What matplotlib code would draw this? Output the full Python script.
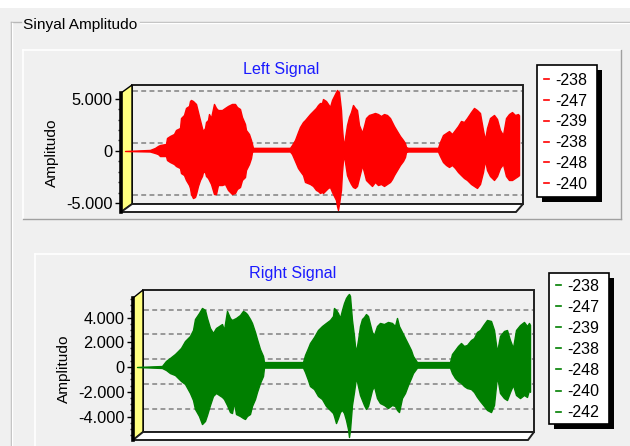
import matplotlib
matplotlib.use('Agg')
import matplotlib.pyplot as plt
from matplotlib.patches import Polygon, Rectangle
from matplotlib.ticker import FuncFormatter, MultipleLocator
import matplotlib.transforms as mtransforms
import numpy as np

plt.rcParams['font.family'] = ['Liberation Sans', 'DejaVu Sans']

W, H = 630, 446

group_title = 'Sinyal Amplitudo'
y_label = 'Amplitudo'
left_title = 'Left Signal'
right_title = 'Right Signal'
left_legend = ['-238', '-247', '-239', '-238', '-248', '-240']
right_legend = ['-238', '-247', '-239', '-238', '-248', '-240', '-242']

# ---- Left channel envelope (sample index, max, min) ----
left_t = [0, 2500, 3000, 3300, 3500, 4100, 4200, 4500, 4900, 5100,
          5500, 5600, 5900, 6100, 6400, 6500, 6600, 6800, 7000, 7100,
          7300, 7500, 7700, 7800, 8000, 8100, 8300, 8400, 8600, 8900,
          9100, 9300, 9700, 10000, 10300, 10700, 11000, 11200, 11500, 11700,
          12000, 12100, 12400, 12600, 12700, 12800, 16500, 16700, 17000, 17300,
          17500, 17800, 18000, 18500, 18800, 19100, 19300, 19500, 19700, 19800,
          20100, 20300, 20500, 20700, 20900, 21100, 21200, 21300, 21400, 21600,
          21700, 21800, 21900, 22000, 22200, 22400, 22600, 22800, 23000, 23200,
          23400, 23600, 23700, 23900, 24100, 24400, 24700, 25000, 25300, 25600,
          25900, 26200, 26500, 26700, 26900, 27200, 27500, 27800, 28000, 28100,
          28300, 31300, 31500, 31800, 32100, 32400, 32700, 33000, 33300, 33600,
          33900, 34200, 34600, 34900, 35200, 35500, 35800, 36000, 36200, 36500,
          36900, 37200, 37500, 37800, 38100, 38400, 38700, 39000, 39300, 39400]
left_max = [0, 100, 290, 480, 570, 670, 1240, 1430, 1620, 2000,
            2190, 3140, 3430, 4100, 4290, 4760, 4860, 4760, 4570, 4480,
            3710, 2950, 2190, 1900, 2190, 2760, 2950, 3520, 3140, 4480,
            4100, 3900, 3900, 4100, 4290, 4480, 4480, 4190, 4000, 3240,
            2570, 2000, 1620, 1050, 670, 300, 300, 570, 1050, 1810,
            2290, 2760, 2950, 3520, 3810, 4100, 4380, 4570, 4570, 4950,
            4760, 4480, 4190, 4860, 5240, 5620, 5810, 5710, 5620, 3900,
            2190, 1050, 480, 1240, 2480, 3240, 3710, 4380, 4100, 3900,
            2480, 2000, 1710, 2380, 3140, 3430, 3520, 3620, 3520, 3330,
            3520, 3430, 3140, 2760, 2380, 1900, 1430, 1050, 760, 380,
            300, 300, 860, 1520, 1710, 1900, 1620, 2000, 2380, 2860,
            2760, 3140, 3710, 4100, 3900, 3620, 2000, 1050, 2190, 3140,
            3430, 3050, 2000, 1520, 3140, 3520, 3710, 3430, 3520, 3400]
left_min = [0, -50, -190, -290, -480, -480, -860, -1050, -1240, -1430,
            -1620, -2100, -2290, -2760, -3240, -3520, -4100, -4480, -4380, -4100,
            -3330, -2760, -2380, -2000, -2000, -2380, -2570, -2760, -3140, -4100,
            -4100, -3240, -3240, -3140, -3710, -4100, -4000, -3620, -3430, -2760,
            -2480, -1810, -1240, -670, -100, -50, -50, -290, -950, -1620,
            -1900, -2290, -2950, -3140, -3330, -3710, -3810, -4000, -3900, -4000,
            -3710, -3520, -3430, -3900, -4290, -4670, -5240, -5620, -5050, -3710,
            -2000, -860, -480, -1050, -2290, -2760, -3140, -3430, -3520, -3330,
            -2570, -1810, -1330, -2000, -2760, -3050, -3330, -2950, -3240, -3140,
            -3330, -3140, -2950, -2670, -2290, -1810, -1330, -950, -570, -100,
            -50, -50, -480, -1050, -1330, -1520, -1330, -1620, -2000, -2290,
            -2570, -2760, -3140, -3330, -3520, -3140, -2000, -860, -1810, -2380,
            -2760, -2380, -1620, -1240, -2380, -2760, -2760, -2570, -2380, -2300]

# ---- Right channel envelope ----
right_t = [0, 2500, 2900, 3300, 3800, 4100, 4400, 4800, 5300, 5600,
           5800, 6200, 6500, 6800, 7000, 7300, 7600, 7900, 8500, 8700,
           9000, 9300, 9500, 9700, 9900, 10300, 10600, 10800, 11000, 11300,
           11500, 11800, 12000, 12300, 12600, 12700, 16600, 16800, 17100, 17300,
           17700, 18100, 18500, 18900, 19300, 19600, 19700, 19900, 20100, 20300,
           20500, 20700, 20900, 21100, 21200, 21300, 21500, 21700, 21800, 21900,
           22100, 22300, 22500, 22700, 22900, 23100, 23300, 23500, 23700, 24000,
           24300, 24700, 25100, 25500, 25800, 26000, 26200, 26500, 26800, 27100,
           27400, 27600, 28000, 31300, 31500, 31800, 32100, 32400, 32700, 33000,
           33400, 33700, 34000, 34300, 34700, 35000, 35400, 35700, 36000, 36300,
           36700, 37000, 37300, 37600, 37900, 38300, 38700, 39000, 39200, 39300]
right_max = [0, 80, 490, 730, 1050, 1290, 1540, 2100, 2510, 2990,
             3880, 4360, 4770, 4610, 3960, 3150, 2750, 3150, 3470, 2990,
             4530, 3960, 3800, 3880, 3960, 4200, 4530, 4440, 4280, 3880,
             3560, 2830, 2260, 1450, 890, 400, 400, 970, 1540, 1940,
             2420, 2990, 3310, 3560, 3800, 4120, 4770, 4610, 4360, 3960,
             4610, 5170, 5580, 5820, 5900, 5740, 3800, 2510, 1700, 1210,
             2180, 3310, 3880, 4040, 4280, 4120, 3470, 2830, 2590, 3310,
             3560, 3470, 3640, 3560, 3310, 3960, 3310, 2830, 2340, 1860,
             1370, 890, 400, 400, 1050, 1370, 1700, 1940, 1700, 1780,
             2180, 2340, 2830, 2990, 3470, 3800, 3720, 2990, 1210, 2510,
             2910, 2990, 2180, 1540, 2990, 3390, 3640, 3310, 3560, 3400]
right_min = [0, -80, -240, -490, -650, -890, -1130, -1370, -2100, -2670,
             -3390, -3960, -4610, -4360, -3880, -3070, -2340, -2100, -2420, -2590,
             -3070, -3640, -3720, -2830, -3800, -3960, -4120, -4200, -3960, -3800,
             -3150, -2590, -2020, -1290, -730, -50, -50, -400, -1050, -1540,
             -1780, -2340, -2590, -3150, -3470, -3720, -3960, -4530, -4120, -3640,
             -3470, -3720, -4280, -5010, -5660, -5090, -3070, -2020, -1450, -810,
             -1540, -2260, -2670, -3070, -3390, -3150, -2510, -1860, -1540, -2510,
             -2910, -3070, -3310, -3070, -3150, -3470, -3640, -2510, -2100, -1450,
             -890, -490, -50, -50, -490, -890, -1130, -1290, -1540, -1700,
             -1780, -2020, -2420, -2750, -3150, -3470, -3640, -3070, -730, -2100,
             -2510, -2670, -2020, -1450, -2260, -2510, -2260, -2420, -1860, -2000]

BG = '#f0f0f0'
fig = plt.figure(figsize=(W / 100, H / 100), dpi=100, facecolor=BG)

bg = fig.add_axes([0, 0, 1, 1], zorder=0)
bg.set_xlim(0, W)
bg.set_ylim(H, 0)
bg.axis('off')
bg.set_facecolor(BG)

# top white strip
bg.add_patch(Rectangle((0, 0), W, 7.5, facecolor='white', edgecolor='none'))

# group box
gcol = '#b8b8b8'
bg.plot([11, 21], [22, 22], color=gcol, lw=1)
bg.plot([140, W], [22, 22], color=gcol, lw=1)
bg.plot([140, W], [23, 23], color='white', lw=1)
bg.plot([11, 11], [22, H], color=gcol, lw=1)
bg.plot([12, 12], [23, H], color='white', lw=1)
bg.text(23, 29, group_title, fontsize=11.1, color='black', va='baseline', ha='left')

# panels (raised)
def panel(x0, y0, x1, y1):
    bg.plot([x0, x1], [y0, y0], color='white', lw=1.2)
    bg.plot([x0, x0], [y0, y1], color='white', lw=1.2)
    if x1 < W:
        bg.plot([x1, x1], [y0, y1], color='#a0a0a0', lw=1)
    if y1 < H:
        bg.plot([x0, x1], [y1, y1], color='#a0a0a0', lw=1)

panel(23, 50, 621, 219)
panel(35, 254, W + 5, H + 5)


def frame3d(xf, yt, yb, dx, dy, xr_back, xr_front):
    bg.add_patch(Rectangle((xf + dx, yt - dy), xr_back - xf - dx, yb - yt,
                           facecolor=BG, edgecolor='#202020', lw=1.4))
    bg.add_patch(Polygon([(xf, yt), (xf + dx, yt - dy), (xf + dx, yb - dy), (xf, yb)],
                         closed=True, facecolor='#ffff80', edgecolor='black', lw=1))
    bg.add_patch(Polygon([(xf, yb), (xf + dx, yb - dy), (xr_back, yb - dy), (xr_front, yb)],
                         closed=True, facecolor='white', edgecolor='#202020', lw=1.4))


def thousands(v, pos):
    s = '{:,}'.format(int(round(v))).replace(',', '.')
    return s


def chart(xf, yt, yb, dx, dy, xr_back, xr_front, x_end, ylo, yhi, major, minor,
          t, vmax, vmin, color, title, title_xy, label_xy, legend_items, legend_box,
          legend_y0, legend_dy):
    frame3d(xf, yt, yb, dx, dy, xr_back, xr_front)
    ax = fig.add_axes([xf / W, 1 - yb / H, (x_end - xf) / W, (yb - yt) / H], zorder=2)
    ax.set_facecolor('none')
    ax.set_xlim(-400, 39400)
    ax.set_ylim(ylo, yhi)
    for s in ['top', 'right', 'bottom']:
        ax.spines[s].set_visible(False)
    ax.spines['left'].set_linewidth(2.6)
    ax.spines['left'].set_color('black')
    ax.set_xticks([])
    ax.yaxis.set_major_locator(MultipleLocator(major))
    ax.yaxis.set_minor_locator(MultipleLocator(minor))
    ax.yaxis.set_major_formatter(FuncFormatter(thousands))
    ax.tick_params(axis='y', which='major', length=4.5, width=1, pad=1.5,
                   labelsize=11.8, colors='black')
    ax.tick_params(axis='y', which='minor', length=2.5, width=1, colors='#303030')
    # grid on back wall (offset)
    off = mtransforms.ScaledTranslation(dx / 100, dy / 100, fig.dpi_scale_trans)
    tr = ax.get_yaxis_transform() + off
    x_right = (xr_back - dx - xf) / (x_end - xf)
    for v in np.arange(np.ceil(ylo / major) * major, yhi + 1, major):
        ax.plot([0.003, x_right - 0.003], [v, v], transform=tr, color='#808080',
                lw=1.1, ls=(0, (3.2, 2.2)), zorder=1, clip_on=False)
    ax.fill_between(t, vmin, vmax, facecolor=color, edgecolor=color, lw=1,
                    zorder=3, clip_on=False)
    bg.text(title_xy[0], title_xy[1], title, fontsize=11.6, color='#1a1aff',
            ha='center', va='baseline')
    bg.text(label_xy[0], label_xy[1], y_label, fontsize=11.1, color='black',
            rotation=90, ha='center', va='center')
    # legend
    lx0, ly0, lx1, ly1 = legend_box
    bg.add_patch(Rectangle((lx0 + 5, ly0 + 5), lx1 - lx0, ly1 - ly0,
                           facecolor='black', edgecolor='none'))
    bg.add_patch(Rectangle((lx0, ly0), lx1 - lx0, ly1 - ly0,
                           facecolor='white', edgecolor='black', lw=1.2))
    for i, item in enumerate(legend_items):
        yc = legend_y0 + i * legend_dy
        bg.plot([lx0 + 7, lx0 + 12], [yc, yc], color=color, lw=1.2)
        bg.text(lx0 + 18.5, yc + 5.7, item, fontsize=11.5, color='black',
                ha='left', va='baseline')
    return ax


chart(121, 93, 212, 11, 8, 523, 516, 519, -5810, 5524, 5000, 1000,
      left_t, left_max, left_min, '#ff0000', left_title, (281.5, 74), (51.5, 152.5),
      left_legend, (537, 65, 597, 197), 79.2, 20.8)

chart(133, 298, 440, 10, 8, 534, 528, 531, -5899, 5576, 2000, 500,
      right_t, right_max, right_min, '#007f00', right_title, (293, 278.3), (63.8, 369),
      right_legend, (549, 273, 609, 424), 285, 21.1)

fig.savefig('out.png', dpi=100, facecolor=BG)
